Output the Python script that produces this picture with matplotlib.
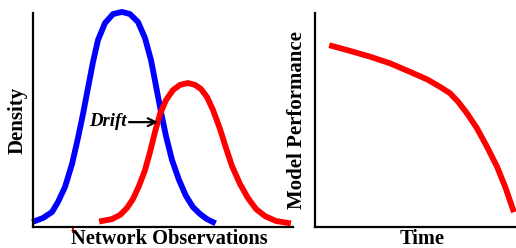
import matplotlib
matplotlib.use("Agg")
import matplotlib.pyplot as plt

# left panel: density of network observations before / after drift
obs_before = [2, 10, 19, 25, 32, 39, 45, 50, 55, 60, 65, 72, 80, 89, 97, 105, 112,
              118, 123, 128, 133, 139, 146, 153, 160, 167, 174, 180]
dens_before = [0.028, 0.042, 0.070, 0.117, 0.187, 0.294, 0.416, 0.528, 0.650, 0.771,
               0.874, 0.953, 0.995, 1.005, 0.995, 0.958, 0.883, 0.780, 0.659, 0.537,
               0.425, 0.313, 0.220, 0.145, 0.093, 0.061, 0.037, 0.023]

obs_after = [69, 79, 87, 94, 100, 106, 112, 117, 122, 127, 133, 140, 147, 155, 162,
             168, 174, 180, 187, 193, 199, 207, 215, 223, 232, 243, 255]
dens_after = [0.028, 0.037, 0.056, 0.089, 0.131, 0.192, 0.266, 0.350, 0.444, 0.528,
              0.593, 0.640, 0.664, 0.673, 0.664, 0.645, 0.607, 0.547, 0.458, 0.369,
              0.285, 0.201, 0.135, 0.084, 0.051, 0.028, 0.019]

# right panel: model performance over time
time = [17, 35, 55, 75, 95, 112, 125, 135, 143, 152, 162, 172, 182, 190, 198]
perf = [0.846, 0.823, 0.796, 0.765, 0.725, 0.690, 0.655, 0.625, 0.586, 0.531,
        0.461, 0.375, 0.282, 0.190, 0.082]

BLUE = "#0000ff"
RED = "#ff0000"
plt.rcParams["font.family"] = ["Liberation Serif", "DejaVu Serif"]

fig = plt.figure(figsize=(5.16, 2.48), dpi=100)
fig.patch.set_facecolor("white")

ax1 = fig.add_axes([33 / 516, 21 / 248, 260 / 516, 214 / 248])
ax2 = fig.add_axes([315 / 516, 21 / 248, 201 / 516, 214 / 248])

line_kw = dict(lw=4.2, clip_on=False, solid_joinstyle="round")
ax1.plot(obs_before, dens_before, color=BLUE, **line_kw)
ax1.plot(obs_after, dens_after, color=RED, **line_kw)
ax1.set_xlim(0, 260)
ax1.set_ylim(0, 1.0)

ax1.annotate("", xy=(125, 0.49), xytext=(96, 0.49),
             arrowprops=dict(arrowstyle="->", color="black", lw=1.6,
                             shrinkA=0, shrinkB=0, mutation_scale=14))
ax1.text(75, 0.495, "Drift", fontsize=13.5, fontweight="bold", fontstyle="italic",
         ha="center", va="center")

ax2.plot(time, perf, color=RED, **line_kw)
ax2.set_xlim(0, 201)
ax2.set_ylim(0, 1.0)

for ax in (ax1, ax2):
    ax.set_facecolor("none")
    for side in ("top", "right"):
        ax.spines[side].set_visible(False)
    for side in ("left", "bottom"):
        ax.spines[side].set_linewidth(1.6)
        ax.spines[side].set_color("black")
    ax.set_yticks([])
    ax.set_xticks([])

# stray red tick under the left axis
ax1.set_xticks([40])
ax1.set_xticklabels([""])
ax1.tick_params(axis="x", colors=RED, length=4, width=1.5, direction="out")

ax1.set_xlabel("Network Observations", fontsize=14.7, fontweight="bold", va="center")
ax1.xaxis.set_label_coords((169 - 33) / 260, -11.5 / 214)
ax1.set_ylabel("Density", fontsize=15, fontweight="bold", va="center")
ax1.yaxis.set_label_coords(-15 / 260, (227 - 120) / 214)

ax2.set_xlabel("Time", fontsize=14.7, fontweight="bold", va="center")
ax2.xaxis.set_label_coords((422 - 315) / 201, -11.5 / 214)
ax2.set_ylabel("Model Performance", fontsize=15, fontweight="bold", va="center")
ax2.yaxis.set_label_coords(-18 / 201, (227 - 120) / 214)

fig.savefig("out.png", dpi=100, facecolor="white")
